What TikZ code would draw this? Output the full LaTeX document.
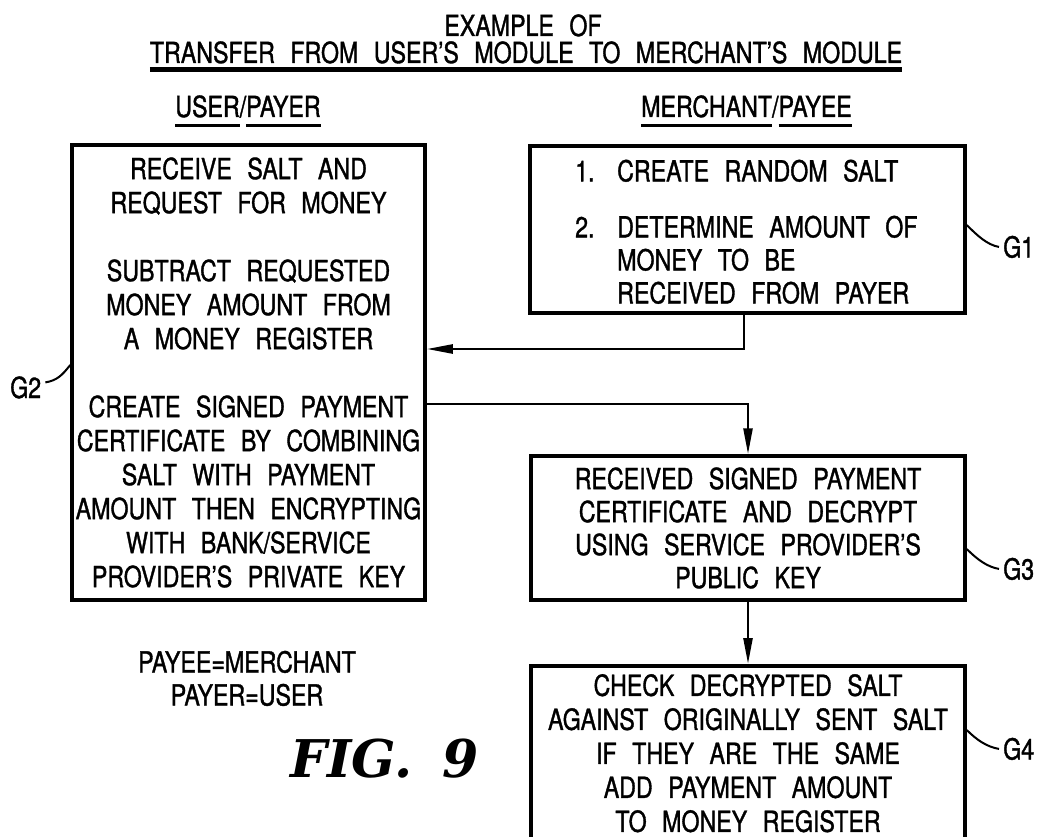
\documentclass[tikz,border=0pt]{standalone}
\usepackage{fontspec}
\setmainfont{TeX Gyre Heros}[FakeStretch=0.8,WordSpace=2.4,FakeBold=1.2]
\newfontfamily\figfont{DejaVu Serif}
\usetikzlibrary{arrows.meta}
\newcommand\ulbox[3]{\begingroup\setbox0\hbox{#3}\rlap{\rule[-#1]{\wd0}{#2}}\box0\endgroup}
\tikzset{
  box/.style={draw, line width=3.5pt, inner sep=0pt},
  txt/.style={font=\fontsize{29}{34}\selectfont, align=center},
  conn/.style={line width=2.5pt},
  arr/.style={conn, -{Triangle[length=26pt,width=9pt]}},
  lead/.style={line width=2pt},
  glabel/.style={font=\fontsize{29}{34}\selectfont, inner sep=4pt}
}
\begin{document}
\begin{tikzpicture}[x=1pt,y=-1pt]
\fill[white] (0,0) rectangle (1046,837);
\useasboundingbox (0,0) rectangle (1046,837);
\clip (0,0) rectangle (1046,837);

% titles
\node[txt, anchor=base, inner sep=0] (t1) at (523,36) {EXAMPLE OF};
\node[txt, anchor=base, inner sep=0] (t2) at (526,63) {\ulbox{9pt}{4.5pt}{TRANSFER FROM USER'S MODULE TO MERCHANT'S MODULE}};
\node[txt, anchor=base, inner sep=0] (colL) at (248,117) {\ulbox{10pt}{3pt}{USER}/\ulbox{10pt}{3pt}{PAYER}};
\node[txt, anchor=base, inner sep=0] (colR) at (746.5,117) {\ulbox{10pt}{3pt}{MERCHANT}/\ulbox{10pt}{3pt}{PAYEE}};

% boxes
\node[box, txt, minimum width=353pt, minimum height=455pt] (g2) at (248.5,372.5)
 {RECEIVE SALT AND\\ REQUEST FOR MONEY\\[34pt]
  SUBTRACT REQUESTED\\ MONEY AMOUNT FROM\\ A MONEY REGISTER\\[34pt]
  CREATE SIGNED PAYMENT\\ CERTIFICATE BY COMBINING\\ SALT WITH PAYMENT\\
  AMOUNT THEN ENCRYPTING\\ WITH BANK/SERVICE\\ PROVIDER'S PRIVATE KEY};

\node[box, minimum width=435pt, minimum height=167pt] (g1) at (747.5,229.5) {};
\node[font=\fontsize{29}{33}\selectfont, align=left, anchor=north west, inner sep=0] (g1txt) at (575,159.5)
 {\makebox[42pt][l]{1.}CREATE RANDOM SALT\\[23pt]
  \makebox[42pt][l]{2.}DETERMINE AMOUNT OF\\
  \hspace*{42pt}MONEY TO BE\\
  \hspace*{42pt}RECEIVED FROM PAYER};

\node[box, font=\fontsize{29}{33}\selectfont, align=center, minimum width=434pt, minimum height=144pt] (g3) at (748,528)
 {RECEIVED SIGNED PAYMENT\\ CERTIFICATE AND DECRYPT\\ USING SERVICE PROVIDER'S\\ PUBLIC KEY};

\node[box, txt, anchor=north, minimum width=434pt, minimum height=175pt] (g4) at (748,664)
 {CHECK DECRYPTED SALT\\ AGAINST ORIGINALLY SENT SALT\\ IF THEY ARE THE SAME\\ ADD PAYMENT AMOUNT\\ TO MONEY REGISTER};

% connectors
\draw[arr] ([xshift=-3.5pt]g1.south) |- ([yshift=23.5pt]g2.east);
\draw[arr] ([yshift=-31.5pt]g2.east) -| (g3.north);
\draw[arr] (g3.south) -- (g4.north);

% reference labels
\node[glabel, anchor=base west] (g1lab) at (999,257.5) {G1};
\node[glabel, anchor=base west] (g3lab) at (999,579.5) {G3};
\node[glabel, anchor=base west] (g4lab) at (999,759.5) {G4};
\node[glabel, anchor=base west] (g2lab) at (6,398) {G2};

\draw[lead] ([yshift=4.5pt]g1.east) .. controls +(10,10) and +(-12,-2) .. (g1lab.west);
\draw[lead] ([yshift=-21pt]g3.east) .. controls +(10,10) and +(-12,-2) .. (g3lab.west);
\draw[lead] ([yshift=-66pt]g4.north east) .. controls +(10,10) and +(-12,-2) .. (g4lab.west);
\draw[lead] ([yshift=7.5pt]g2.west) .. controls +(-8,10) and +(12,-2) .. ([yshift=5pt]g2lab.east);

% notes
\node[txt, anchor=base, inner sep=0] (note1) at (247,672.5) {PAYEE=MERCHANT};
\node[txt, anchor=base, inner sep=0] (note2) at (247,705.5) {PAYER=USER};
\node[anchor=base west, inner sep=0, font=\figfont\fontsize{52}{60}\bfseries\itshape] (fig) at (290,777) {FIG.\hspace{30pt}9};
\end{tikzpicture}
\end{document}
